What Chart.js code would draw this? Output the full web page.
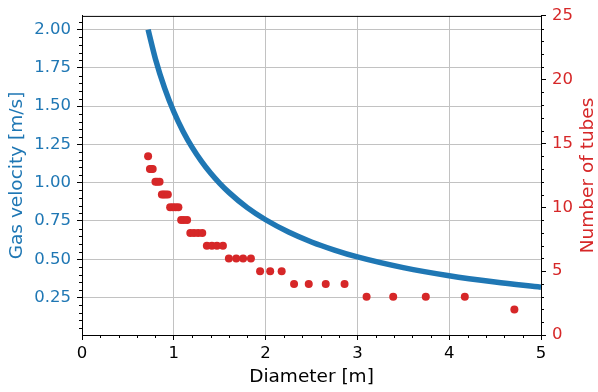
<!DOCTYPE html>
<html>
<head>
<meta charset="utf-8">
<script src="https://cdn.jsdelivr.net/npm/chart.js@4.4.1/dist/chart.umd.min.js"></script>
<style>
  html, body { margin: 0; padding: 0; background: #fff; }
  #wrap { width: 598px; height: 392px; }
</style>
</head>
<body>
<div id="wrap"><canvas id="chart" width="598" height="392"></canvas></div>
<script>
// gas velocity curve
const diameterCurve = [0.72, 0.8, 0.9, 1.0, 1.1, 1.2, 1.3, 1.4, 1.5, 1.6, 1.8, 2.0, 2.25, 2.5, 2.75, 3.0, 3.5, 4.0, 4.5, 5.0];
const velocityCurve = [2.0, 1.809, 1.618, 1.464, 1.337, 1.231, 1.141, 1.063, 0.996, 0.937, 0.837, 0.758, 0.678, 0.613, 0.56, 0.515, 0.445, 0.392, 0.351, 0.317];

// number of tubes per diameter (red dots)
const diameterTubes = [
    0.72,
    0.74, 0.755, 0.77,
    0.80, 0.82, 0.845,
    0.87, 0.89, 0.91, 0.935,
    0.96, 0.99, 1.02, 1.05,
    1.08, 1.11, 1.145,
    1.18, 1.22, 1.265, 1.31,
    1.36, 1.415, 1.47, 1.535,
    1.60, 1.68, 1.755, 1.84,
    1.94, 2.05, 2.175,
    2.31, 2.47, 2.655, 2.86,
    3.10, 3.39, 3.745, 4.17,
    4.71,
];
const tubeCounts = [
    14,
    13, 13, 13,
    12, 12, 12,
    11, 11, 11, 11,
    10, 10, 10, 10,
    9, 9, 9,
    8, 8, 8, 8,
    7, 7, 7, 7,
    6, 6, 6, 6,
    5, 5, 5,
    4, 4, 4, 4,
    3, 3, 3, 3,
    2,
];

const xTicks = [0, 1, 2, 3, 4, 5];
const velocityTicks = [0.25, 0.5, 0.75, 1.0, 1.25, 1.5, 1.75, 2.0];
const tubeTicks = [0, 5, 10, 15, 20, 25];

const blue = "#1f77b4";
const red = "#d62728";
const font = "DejaVu Sans";
const tickFont = { family: font, size: 16.5 };

// matplotlib-ish minor ticks, top spine, rotated axis labels
const extras = {
    id: "extras",
    afterDraw(chart) {
        const { ctx, chartArea: a, scales } = chart;
        ctx.save();
        ctx.strokeStyle = "#000";
        ctx.lineWidth = 1;
        ctx.beginPath();
        ctx.moveTo(a.left, a.top + 0.5);
        ctx.lineTo(a.right, a.top + 0.5);
        ctx.stroke();

        ctx.beginPath();
        for (let i = 1; i < 25; i++) {
            if (i % 5 === 0) continue;
            const px = Math.round(scales.x.getPixelForValue(i * 0.2)) + 0.5;
            ctx.moveTo(px, a.bottom);
            ctx.lineTo(px, a.bottom + 3);
        }
        for (let i = 1; i <= 41; i++) {
            if (i % 5 === 0) continue;
            const py = Math.round(scales.y.getPixelForValue(i * 0.05)) + 0.5;
            if (py < a.top) continue;
            ctx.moveTo(a.left, py);
            ctx.lineTo(a.left - 3, py);
        }
        for (let i = 1; i < 25; i++) {
            if (i % 5 === 0) continue;
            const py = Math.round(scales.y1.getPixelForValue(i)) + 0.5;
            ctx.moveTo(a.right, py);
            ctx.lineTo(a.right + 3, py);
        }
        ctx.stroke();

        ctx.font = `18.5px "${font}"`;
        ctx.textAlign = "center";
        ctx.textBaseline = "middle";
        const midY = (a.top + a.bottom) / 2;

        ctx.save();
        ctx.translate(17, midY);
        ctx.rotate(-Math.PI / 2);
        ctx.fillStyle = blue;
        ctx.fillText("Gas velocity [m/s]", 0, 0);
        ctx.restore();

        ctx.save();
        ctx.translate(588, midY);
        ctx.rotate(-Math.PI / 2);
        ctx.fillStyle = red;
        ctx.fillText("Number of tubes", 0, 0);
        ctx.restore();

        ctx.restore();
    },
};

const fixTicks = (values) => (scale) => {
    scale.ticks = values.map((v) => ({ value: v }));
};

new Chart(document.getElementById("chart"), {
    type: "scatter",
    data: {
        datasets: [
            {
                label: "Gas velocity",
                data: diameterCurve.map((d, i) => ({ x: d, y: velocityCurve[i] })),
                yAxisID: "y",
                showLine: true,
                borderColor: blue,
                backgroundColor: blue,
                borderWidth: 5.5,
                pointRadius: 0,
                cubicInterpolationMode: "monotone",
            },
            {
                label: "Number of tubes",
                data: diameterTubes.map((d, i) => ({ x: d, y: tubeCounts[i] })),
                yAxisID: "y1",
                showLine: false,
                backgroundColor: red,
                borderColor: red,
                borderWidth: 0,
                pointRadius: 4,
            },
        ],
    },
    options: {
        responsive: false,
        animation: false,
        layout: { padding: { top: 12, left: 0, right: 0, bottom: 0 } },
        plugins: { legend: { display: false }, tooltip: { enabled: false } },
        scales: {
            x: {
                type: "linear",
                min: 0,
                max: 5,
                afterBuildTicks: fixTicks(xTicks),
                afterFit: (s) => { s.height = 57; },
                grid: { color: "#c2c2c2", lineWidth: 1, tickColor: "#000", tickLength: 5 },
                border: { color: "#000", width: 1 },
                ticks: { color: "#000", font: tickFont, padding: 4, maxRotation: 0, callback: (v) => String(v) },
                title: { display: true, text: "Diameter [m]", color: "#000", font: { family: font, size: 18.5, lineHeight: 1 }, padding: { top: 0, bottom: 6 } },
            },
            y: {
                type: "linear",
                position: "left",
                min: 0.005,
                max: 2.09,
                afterBuildTicks: fixTicks(velocityTicks),
                afterFit: (s) => { s.width = 82; },
                grid: { color: "#c2c2c2", lineWidth: 1, tickColor: "#000", tickLength: 5 },
                border: { color: "#000", width: 1 },
                ticks: { color: blue, font: tickFont, padding: 6, callback: (v) => v.toFixed(2) },
            },
            y1: {
                type: "linear",
                position: "right",
                min: 0,
                max: 25,
                afterBuildTicks: fixTicks(tubeTicks),
                afterFit: (s) => { s.width = 57; },
                grid: { drawOnChartArea: false, tickColor: "#000", tickLength: 5 },
                border: { color: "#000", width: 1 },
                ticks: { color: red, font: tickFont, padding: 6, callback: (v) => String(v) },
            },
        },
    },
    plugins: [extras],
});
</script>
</body>
</html>
